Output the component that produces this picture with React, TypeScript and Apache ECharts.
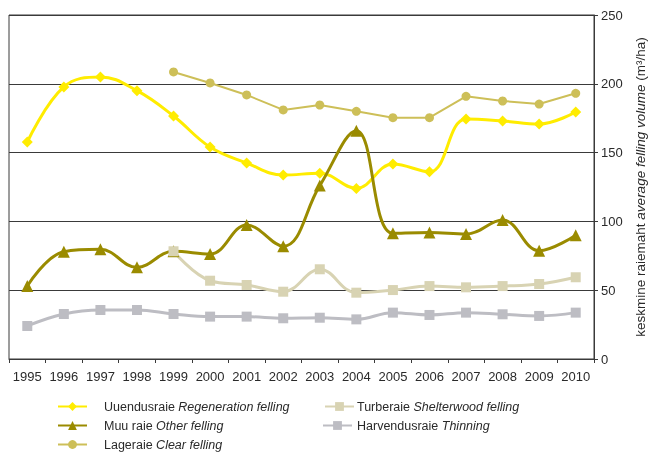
import React, { useEffect, useRef } from "react";
import * as echarts from "echarts";

const years = ["1995","1996","1997","1998","1999","2000","2001","2002","2003","2004","2005","2006","2007","2008","2009","2010"];
const regeneration = [157.7,197.7,205,195,176.6,154,142.4,133.7,135,124,141.7,136,174.4,173,170.8,179.5];
const other = [53,78,79.7,66.6,78.3,76.3,97.4,82,126,165.9,91.3,92,90.8,101,78.7,90];
const clear = [null,null,null,null,208.6,200.6,191.9,181,184.6,180,175.4,175.4,190.9,187.5,185.3,193.1];
const shelterwood = [null,null,null,null,78.3,56.9,53.8,48.9,65.2,48.2,50.1,53,52.1,53,54.5,59.4];
const thinning = [24,32.7,35.6,35.6,32.7,30.8,30.8,29.6,30,28.8,33.7,32,33.7,32.5,31.3,33.7];
const yTicks = [0, 50, 100, 150, 200, 250];

const names = ["Uuendusraie", "Muu raie", "Lageraie", "Turberaie", "Harvendusraie"];
const enNames = ["Regeneration felling", "Other felling", "Clear felling", "Shelterwood felling", "Thinning"];

const FONT = "'Liberation Sans', Arial, sans-serif";
const TXT = "#2a2a2a";

export default function App() {
  const ref = useRef<HTMLDivElement>(null);
  useEffect(() => {
    if (!ref.current) return;
    const chart = echarts.init(ref.current, null, { renderer: "svg" });
    const legendFormatter = (n: string) => {
      const i = names.indexOf(n);
      return `${n} {i|${enNames[i]}}`;
    };
    const legendText = (padLeft: number) => ({
      fontFamily: FONT,
      fontSize: 12.5,
      color: TXT,
      padding: [0, 0, 0, padLeft],
      rich: { i: { fontStyle: "italic", fontFamily: FONT, fontSize: 12.5, color: TXT } },
    });
    const legendPos = [
      { left: 57, cy: 408, pad: 12 },
      { left: 57, cy: 427, pad: 12 },
      { left: 57, cy: 446, pad: 12 },
      { left: 324, cy: 408, pad: -2 },
      { left: 322, cy: 427, pad: 0 },
    ];
    const legends = names.map((n, i) => ({
      data: [n],
      orient: "horizontal",
      left: legendPos[i].left,
      top: legendPos[i].cy - 8,
      padding: 0,
      itemWidth: 29,
      itemHeight: 11,
      formatter: legendFormatter,
      textStyle: legendText(legendPos[i].pad),
    }));
    const mk = (name: string, data: any[], color: string, symbol: string, size: number, width: number, smooth: boolean | number) => ({
      name,
      type: "line",
      data,
      smooth,
      symbol,
      symbolSize: size,
      connectNulls: false,
      lineStyle: { color, width },
      itemStyle: { color },
    });
    chart.setOption({
      animation: false,
      textStyle: { fontFamily: FONT },
      grid: {
        left: 9, right: 56, top: 15, bottom: 95,
        containLabel: false,
        outerBoundsMode: "none",
        show: true, borderColor: "#3a3a3a", borderWidth: 1,
      },
      legend: legends,
      xAxis: {
        type: "category",
        data: years,
        boundaryGap: true,
        axisLine: { show: true, lineStyle: { color: "#3a3a3a" } },
        axisTick: { show: true, length: 4, interval: 0, lineStyle: { color: "#3a3a3a" } },
        axisLabel: { interval: 0, margin: 11, fontSize: 13, color: TXT, fontFamily: FONT },
        splitLine: { show: false },
      },
      yAxis: {
        type: "value",
        position: "right",
        min: yTicks[0],
        max: yTicks[yTicks.length - 1],
        interval: 50,
        axisLine: { show: true, lineStyle: { color: "#3a3a3a" } },
        axisTick: { show: true, length: 4, lineStyle: { color: "#3a3a3a" } },
        axisLabel: { margin: 7, fontSize: 13, color: TXT, fontFamily: FONT },
        splitLine: { show: true, lineStyle: { color: "#3a3a3a", width: 1 } },
        name: "keskmine raiemaht {i|average felling volume} (m³/ha)",
        nameLocation: "middle",
        nameGap: 38,
        nameTextStyle: {
          fontSize: 13.5,
          color: TXT,
          fontFamily: FONT,
          rich: { i: { fontStyle: "italic", fontSize: 13.5, color: TXT, fontFamily: FONT } },
        },
      },
      series: [
        mk(names[0], regeneration, "#ffec00", "diamond", 11, 3, 0.4),
        mk(names[1], other, "#9a8b00", "triangle", 12, 3, 0.4),
        mk(names[2], clear, "#cdbf58", "circle", 9, 2, false),
        mk(names[3], shelterwood, "#d8d3b3", "rect", 10, 3, 0.4),
        mk(names[4], thinning, "#bdbdc3", "rect", 10, 3, 0.4),
      ],
    });
    return () => chart.dispose();
  }, []);
  return <div ref={ref} style={{ position: "fixed", left: 0, top: 0, width: 650, height: 454 }} />;
}
